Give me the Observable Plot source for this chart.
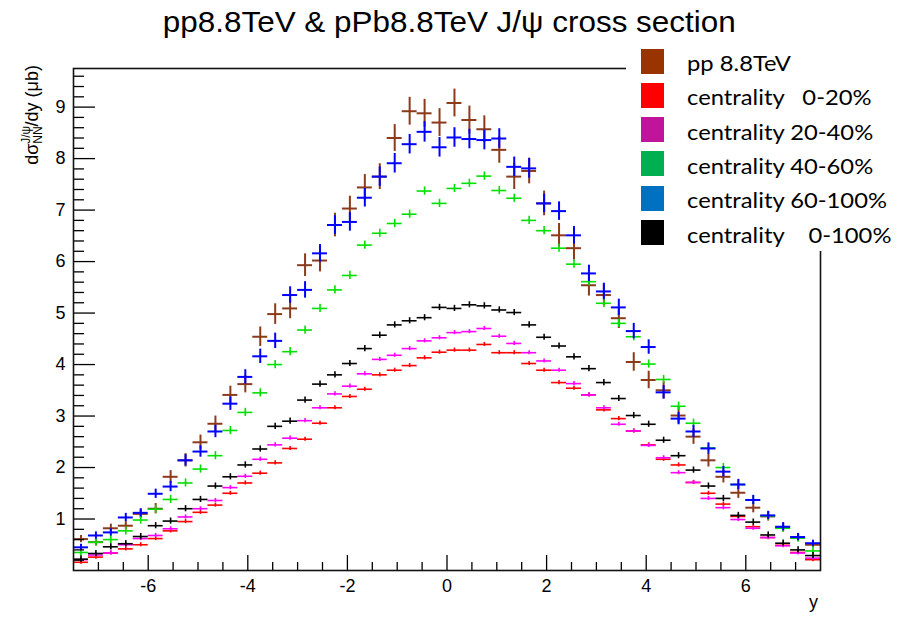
<!DOCTYPE html>
<html><head><meta charset="utf-8">
<script src="https://cdn.jsdelivr.net/npm/d3@7"></script>
<script src="https://cdn.jsdelivr.net/npm/@observablehq/plot@0.6"></script>
<style>
body{margin:0;background:#fff;}
#wrap{position:relative;width:899px;height:617px;overflow:hidden;font-family:"Liberation Sans",Arial,sans-serif;background:#fff;}
#title{height:45px;line-height:44px;text-align:center;font-size:29px;color:#000;white-space:nowrap;font-family:"Liberation Sans Narrow","Liberation Sans",Arial,sans-serif;}
#title span{display:inline-block;transform-origin:center;}
#legend{position:absolute;left:626px;top:40px;width:273px;height:211px;background:#fff;font-family:Lato,"Open Sans",sans-serif;color:#000;}
.sw{position:absolute;left:15px;width:23px;height:25px;}
.lab{position:absolute;left:61px;white-space:pre;font-size:22px;line-height:26px;transform-origin:left center;}
</style></head>
<body>
<div id="wrap">
  <div id="title"><span id="ttl">pp8.8TeV &amp; pPb8.8TeV J/ψ cross section</span></div>
  <div id="chart"></div>
  <div id="legend"></div>
</div>
<script>
// ---- data ----
const bins = [-7.35,-7.05,-6.75,-6.45,-6.15,-5.85,-5.55,-5.25,-4.95,-4.65,-4.35,-4.05,-3.75,-3.45,-3.15,-2.85,-2.55,-2.25,-1.95,-1.65,-1.35,-1.05,-0.75,-0.45,-0.15,0.15,0.45,0.75,1.05,1.35,1.65,1.95,2.25,2.55,2.85,3.15,3.45,3.75,4.05,4.35,4.65,4.95,5.25,5.55,5.85,6.15,6.45,6.75,7.05,7.35];

const pp88 = [0.61,0.55,0.82,0.87,1.10,1.20,1.82,2.14,2.49,2.85,3.41,3.62,4.54,4.98,5.09,5.93,6.02,6.71,7.03,7.44,7.65,8.40,8.92,8.88,8.70,9.08,8.75,8.57,8.17,7.65,7.76,7.13,6.51,6.26,5.54,5.35,4.90,4.05,3.70,3.50,3.01,2.60,2.14,1.82,1.51,1.22,1.05,0.84,0.64,0.50];
const pp88Err = [0.07,0.07,0.08,0.08,0.09,0.10,0.12,0.13,0.14,0.15,0.17,0.17,0.19,0.20,0.20,0.22,0.22,0.23,0.24,0.25,0.25,0.26,0.27,0.27,0.27,0.27,0.27,0.26,0.26,0.25,0.25,0.24,0.23,0.23,0.21,0.21,0.20,0.18,0.17,0.17,0.16,0.15,0.13,0.12,0.11,0.10,0.09,0.08,0.07,0.06];

const cent0020 = [0.16,0.26,0.34,0.42,0.50,0.62,0.77,0.95,1.13,1.27,1.50,1.70,1.89,2.09,2.37,2.55,2.86,3.16,3.38,3.52,3.80,3.89,3.98,4.13,4.24,4.28,4.28,4.39,4.23,4.23,4.02,3.89,3.65,3.54,3.41,3.12,2.95,2.71,2.44,2.16,2.05,1.71,1.50,1.29,1.05,0.85,0.64,0.49,0.35,0.21];
const cent2040 = [0.21,0.30,0.34,0.50,0.62,0.68,0.81,1.04,1.20,1.36,1.61,1.83,2.16,2.44,2.57,2.91,3.16,3.43,3.58,3.82,4.10,4.18,4.31,4.46,4.52,4.62,4.64,4.70,4.55,4.41,4.23,4.07,3.89,3.63,3.41,3.16,2.84,2.71,2.43,2.19,1.90,1.71,1.40,1.22,0.99,0.82,0.64,0.48,0.34,0.24];
const cent4060 = [0.35,0.55,0.60,0.77,0.98,1.19,1.38,1.70,1.97,2.23,2.72,3.07,3.45,4.00,4.25,4.67,5.09,5.45,5.73,6.32,6.55,6.74,6.92,7.37,7.13,7.42,7.52,7.66,7.38,7.23,6.80,6.60,6.26,5.95,5.61,5.19,4.80,4.54,4.01,3.71,3.19,2.86,2.38,2.00,1.67,1.37,1.06,0.82,0.63,0.38];
const cent60100 = [0.45,0.68,0.74,1.03,1.12,1.49,1.63,2.14,2.31,2.70,3.24,3.76,4.16,4.46,5.35,5.45,6.16,6.71,6.77,7.24,7.65,7.91,8.28,8.52,8.22,8.41,8.38,8.36,8.39,7.84,7.81,7.13,6.98,6.51,5.77,5.42,5.11,4.65,4.34,3.46,2.95,2.70,2.37,1.92,1.67,1.37,1.07,0.85,0.65,0.53];
const cent60100Err = [0.06,0.07,0.07,0.08,0.08,0.09,0.10,0.11,0.11,0.12,0.13,0.14,0.14,0.15,0.16,0.16,0.17,0.18,0.18,0.18,0.19,0.19,0.19,0.20,0.19,0.19,0.19,0.19,0.19,0.19,0.19,0.18,0.18,0.17,0.16,0.16,0.16,0.15,0.14,0.13,0.12,0.12,0.11,0.10,0.10,0.09,0.08,0.08,0.07,0.06];
const cent0100 = [0.22,0.33,0.46,0.52,0.66,0.87,0.96,1.20,1.38,1.64,1.82,2.05,2.36,2.80,2.90,3.31,3.62,3.80,4.02,4.31,4.57,4.77,4.85,4.91,5.11,5.09,5.16,5.14,5.06,5.01,4.77,4.53,4.36,4.15,3.92,3.65,3.34,3.01,2.84,2.53,2.23,1.95,1.64,1.40,1.07,0.94,0.69,0.53,0.40,0.29];

const seriesLabels = ["pp 8.8TeV","centrality   0-20%","centrality 20-40%","centrality 40-60%","centrality 60-100%","centrality    0-100%"];
const seriesValues = [pp88, cent0020, cent2040, cent4060, cent60100, cent0100];
const seriesErrors = [pp88Err, 0.04, 0.04, 0.08, cent60100Err, 0.06];
const markerColors = ["#8b3a1a","#ff0000","#ff00ff","#00e000","#0000ff","#000000"];
const markerWidths = [2, 1.6, 1.6, 1.6, 2, 1.6];
const swatchColors = ["#993300","#ff0000","#c0149b","#00b050","#0070c0","#000000"];

const yMajor = [1,2,3,4,5,6,7,8,9];
const xMajor = [-6,-4,-2,0,2,4,6];
const binHalf = 0.15;

// ---- build ----
const yMinor = d3.range(1, 49).map(k => k * 0.2).filter(v => Math.abs(v - Math.round(v)) > 1e-6);
const xMinor = d3.range(-14, 15).map(k => k * 0.5).filter(v => Math.abs(v / 2 - Math.round(v / 2)) > 1e-6);
const plainFmt = d => String(d);

const rowsBySeries = seriesValues.map((vals, s) => vals.map((v, i) => ({
  x: bins[i], v, e: Array.isArray(seriesErrors[s]) ? seriesErrors[s][i] : seriesErrors[s]
})));

const dataMarks = rowsBySeries.flatMap((rows, s) => [
  Plot.ruleY(rows, {y: "v", x1: d => d.x - binHalf, x2: d => d.x + binHalf, stroke: markerColors[s], strokeWidth: markerWidths[s]}),
  Plot.ruleX(rows, {x: "x", y1: d => d.v - d.e, y2: d => d.v + d.e, stroke: markerColors[s], strokeWidth: markerWidths[s]})
]);

const svg = Plot.plot({
  width: 899, height: 572,
  marginTop: 23, marginBottom: 47, marginLeft: 73, marginRight: 79,
  style: {fontFamily: "Liberation Sans, Arial, sans-serif", fontSize: "17px", color: "#000", background: "#fff", overflow: "visible"},
  x: {domain: [-7.5, 7.5], label: null},
  y: {domain: [0, 9.75], label: null},
  marks: [
    ...dataMarks,
    Plot.axisY(yMinor, {tickSize: -11, tickFormat: () => "", label: null, strokeWidth: 1.3}),
    Plot.axisY(yMajor, {tickSize: -22, tickPadding: 30, tickFormat: plainFmt, label: null, fontSize: 18, strokeWidth: 1.3}),
    Plot.axisX(xMinor, {tickSize: -8, tickFormat: () => "", label: null, strokeWidth: 1.3}),
    Plot.axisX(xMajor, {tickSize: -15, tickPadding: 24, tickFormat: plainFmt, label: null, fontSize: 18, strokeWidth: 1.3}),
    Plot.frame({stroke: "#111", strokeWidth: 1.6})
  ]
});
document.getElementById("chart").appendChild(svg);

// y-axis title with stacked super/subscript
const yl = d3.select(svg).append("text")
  .attr("transform", "translate(38,20) rotate(-90)")
  .attr("text-anchor", "end")
  .attr("font-size", 18)
  .attr("font-family", "Liberation Sans, Arial, sans-serif")
  .attr("fill", "#000");
yl.append("tspan").text("dσ");
const sup = yl.append("tspan").attr("font-size", 12).attr("dy", -8).text("J/ψ");
const supW = sup.node().getComputedTextLength();
yl.append("tspan").attr("font-size", 12).attr("dy", 12).attr("dx", -supW).text("NN");
yl.append("tspan").attr("dy", -4).text("/dy (μb)");

// x-axis title
d3.select(svg).append("text")
  .attr("x", 818).attr("y", 563)
  .attr("text-anchor", "end")
  .attr("font-size", 18)
  .attr("font-family", "Liberation Sans, Arial, sans-serif")
  .attr("fill", "#000")
  .text("y");

// title fit
const ttl = document.getElementById("ttl");
const tw = ttl.getBoundingClientRect().width;
ttl.style.transform = `scaleX(${573 / tw})`;

// legend
const legend = document.getElementById("legend");
const rowStep = 34.3, rowTop = 21;
seriesLabels.forEach((lab, s) => {
  const cy = rowTop + s * rowStep;
  const sw = document.createElement("div");
  sw.className = "sw";
  sw.style.top = (cy - 12.5) + "px";
  sw.style.background = swatchColors[s];
  legend.appendChild(sw);
  const t = document.createElement("div");
  t.className = "lab";
  t.textContent = lab;
  t.style.top = (cy - 13 + 2) + "px";
  legend.appendChild(t);
});
const labs = legend.querySelectorAll(".lab");
const refW = labs[4].getBoundingClientRect().width;
const k = 200 / refW;
labs.forEach(l => l.style.transform = `scaleX(${k})`);
</script>
</body></html>
